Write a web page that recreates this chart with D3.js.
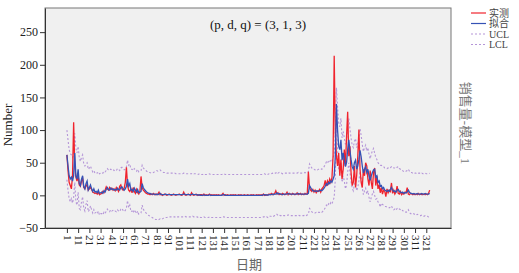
<!DOCTYPE html>
<html><head><meta charset="utf-8">
<script src="https://cdn.jsdelivr.net/npm/d3@7"></script>
<style>
html,body{margin:0;padding:0;background:#fff;}
svg{display:block;}
</style>
</head><body>
<svg id="chart" width="519" height="273"></svg>
<script>
// ---- data ----
const actual = [
62,38,20,15,10,30,112,45,28,22,
30,16,14,22,26,12,10,14,17,8,
10,12,9,5,4,3,4,2,5,1,
2,3,6,4,8,13,10,8,12,9,
11,8,10,7,12,9,6,14,16,10,
8,11,20,43,15,8,6,10,4,12,
6,3,9,4,2,6,29,12,8,6,
4,3,2,2,1,2,1,3,1,2,
1,2,5,1,2,0,1,2,1,0,
1,2,1,0,1,2,1,0,1,1,
2,1,0,1,5,1,0,1,2,1,
0,4,1,0,1,2,0,1,0,1,
1,0,2,0,1,0,1,2,0,1,
0,1,0,1,0,1,0,0,1,3,
0,1,0,1,0,0,1,0,1,0,
1,0,0,1,0,1,0,0,1,0,
0,1,0,0,1,0,1,0,0,1,
0,1,0,1,0,2,0,1,0,1,
2,1,3,1,2,3,7,2,4,1,
2,1,3,2,1,2,5,1,3,2,
1,3,2,1,2,4,1,2,3,1,
2,1,3,2,2,36,12,8,6,9,
5,8,4,7,6,9,5,10,12,15,
23,14,22,18,25,20,27,60,214,95,
60,45,65,30,55,25,40,70,45,90,
128,60,75,35,15,20,45,12,30,60,
101,40,20,12,40,30,50,45,25,15,
38,20,10,35,42,15,30,10,16,4,
12,2,8,6,-2,10,4,8,6,19,
3,8,2,5,14,3,2,6,1,3,
2,5,4,12,2,1,3,2,1,2,
1,2,1,3,1,2,1,1,2,1,
2,1,3,8];
const fitted = [
62,45,30,25,28,22,30,65,30,25,
40,18,15,25,30,14,10,18,22,8,
12,16,10,6,10,5,6,4,8,3,
4,5,3,7,5,9,12,9,8,11,
9,10,8,9,8,11,9,8,12,13,
10,8,10,14,25,14,18,8,9,6,
11,8,5,9,4,5,6,18,12,9,
7,5,4,3,3,2,2,2,2,1,
2,1,2,3,1,1,1,1,2,1,
1,1,1,1,1,1,1,1,1,1,
1,1,1,1,2,2,1,1,1,1,
1,1,2,1,1,1,1,0,1,0,
0,0,1,0,0,0,0,1,0,0,
0,0,0,0,0,0,0,0,0,1,
1,0,0,0,0,0,0,0,0,0,
0,0,0,0,0,0,0,0,0,0,
0,0,0,0,0,0,0,0,0,0,
0,0,0,0,0,1,1,0,1,0,
1,1,1,2,1,2,2,4,2,3,
2,2,1,2,2,2,2,3,2,2,
2,2,2,2,2,2,3,2,2,2,
2,2,2,2,2,3,15,12,9,7,
7,6,7,6,7,7,8,7,9,11,
14,18,16,20,18,22,20,25,30,60,
140,100,75,70,85,54,65,55,44,50,
70,85,69,55,44,40,50,54,40,45,
55,69,59,45,34,40,44,35,40,30,
23,30,35,39,40,28,30,20,22,14,
15,10,12,8,7,6,8,6,9,12,
8,6,7,5,8,9,6,5,4,5,
3,4,4,5,8,5,3,3,2,3,
2,2,3,2,2,2,3,2,2,3,
2,2,2,3];
const ucl = [
100,85,70,64,62,58,62,95,72,65,
75,58,52,58,62,48,45,48,50,40,
42,45,40,36,38,34,35,34,36,33,
34,35,34,37,36,38,41,39,38,40,
39,40,38,39,38,41,40,38,42,43,
41,39,40,44,54,46,48,40,40,38,
41,39,37,40,36,37,38,46,42,40,
39,37,36,35,35,34,34,35,36,37,
38,37,38,39,37,36,35,35,35,34,
34,34,34,34,34,34,34,33,33,33,
33,33,33,33,34,34,33,33,33,33,
33,33,34,33,33,33,33,32,33,32,
32,32,33,32,32,32,32,33,32,32,
32,32,32,32,32,32,32,32,32,33,
33,32,32,32,32,32,32,32,32,32,
32,32,32,32,32,32,32,32,32,32,
32,32,32,32,32,32,32,32,32,32,
32,32,32,32,32,33,33,32,33,32,
33,33,33,34,33,34,34,36,34,35,
34,34,33,34,34,34,34,35,34,34,
34,34,34,34,34,34,35,34,34,34,
34,34,35,34,35,36,48,45,42,40,
40,39,40,39,40,40,41,40,42,44,
47,51,49,53,51,55,53,58,63,95,
165,135,110,105,118,88,98,88,78,84,
104,118,102,88,77,73,83,87,73,78,
88,102,92,78,67,73,77,68,73,63,
56,63,68,72,65,58,55,50,48,46,
46,44,44,42,42,41,42,41,42,44,
44,42,42,41,43,44,41,40,38,38,
36,37,37,38,40,37,35,35,34,35,
34,34,35,34,34,33,34,33,33,34,
33,33,33,34];
const lcl = [
24,8,-5,-10,-5,-12,-3,20,-10,-15,
5,-20,-22,-10,-2,-20,-24,-14,-8,-25,
-22,-16,-22,-27,-22,-27,-26,-28,-24,-30,
-28,-28,-30,-26,-28,-24,-21,-24,-25,-22,
-24,-23,-25,-24,-25,-22,-24,-25,-21,-20,
-23,-25,-23,-19,-8,-19,-15,-25,-24,-27,
-22,-25,-28,-24,-29,-28,-27,-15,-21,-24,
-26,-28,-30,-31,-32,-33,-34,-35,-36,-37,
-37,-38,-37,-36,-37,-36,-35,-35,-34,-34,
-33,-33,-33,-33,-33,-33,-33,-34,-33,-33,
-33,-33,-33,-33,-32,-32,-33,-33,-33,-33,
-33,-33,-32,-33,-33,-33,-33,-34,-33,-34,
-34,-34,-33,-34,-34,-34,-34,-33,-34,-34,
-34,-34,-34,-34,-34,-34,-34,-34,-34,-33,
-33,-34,-34,-34,-34,-34,-34,-34,-34,-34,
-34,-34,-34,-34,-34,-34,-34,-34,-34,-34,
-34,-34,-34,-34,-34,-34,-34,-34,-34,-34,
-34,-34,-34,-34,-34,-33,-33,-34,-33,-34,
-32,-32,-32,-31,-32,-31,-31,-29,-31,-30,
-31,-31,-32,-31,-31,-31,-31,-30,-31,-31,
-31,-31,-31,-31,-31,-31,-30,-31,-31,-31,
-31,-31,-30,-31,-30,-29,-20,-22,-25,-27,
-27,-27,-26,-27,-26,-26,-25,-26,-24,-22,
-19,-15,-17,-13,-15,-11,-13,-8,-3,25,
110,70,40,35,50,20,30,22,10,16,
36,50,36,22,11,7,17,20,7,12,
22,36,26,12,1,7,11,2,7,-3,
-10,-3,2,6,0,-6,-5,-10,-12,-18,
-12,-14,-15,-17,-17,-18,-18,-19,-18,-16,
-20,-22,-21,-23,-20,-19,-21,-22,-24,-23,
-25,-25,-26,-25,-22,-26,-28,-28,-29,-28,
-30,-30,-29,-30,-31,-31,-30,-31,-32,-31,
-32,-32,-33,-32];
const xTickValues = d3.range(1, 322, 10);
const yTickValues = [-50, 0, 50, 100, 150, 200, 250];
const legendLabels = ["实测", "拟合", "UCL", "LCL"];
const titleText = "(p, d, q) = (3, 1, 3)";

// ---- layout ----
const svg = d3.select("#chart");
const L = 45, R = 451, T = 8, B = 228;
const x = d3.scaleLinear().domain([-18.5, 343]).range([L, R]);
const y = d3.scaleLinear().domain([-50, 287]).range([B, T]);
const serif = "'Liberation Serif','Times New Roman',serif";
const cjk = "'Liberation Serif','Noto Sans CJK SC',serif";

svg.append("rect").attr("x", L).attr("y", T).attr("width", R - L).attr("height", B - T)
  .attr("fill", "#f0f0f0").attr("stroke", "#777").attr("stroke-width", 1);

svg.append("clipPath").attr("id", "pc").append("rect")
  .attr("x", L).attr("y", T).attr("width", R - L).attr("height", B - T);
const g = svg.append("g").attr("clip-path", "url(#pc)");

const line = d3.line().x((d, i) => x(i + 1)).y(d => y(d));
const purple = "#b596d8";
g.append("path").datum(ucl).attr("d", line).attr("fill", "none")
  .attr("stroke", purple).attr("stroke-width", 1.1).attr("stroke-dasharray", "2,2");
g.append("path").datum(lcl).attr("d", line).attr("fill", "none")
  .attr("stroke", purple).attr("stroke-width", 1.1).attr("stroke-dasharray", "2,2");
g.append("path").datum(actual).attr("d", line).attr("fill", "none")
  .attr("stroke", "#f0232d").attr("stroke-width", 1.3);
g.append("path").datum(fitted).attr("d", line).attr("fill", "none")
  .attr("stroke", "#3552b5").attr("stroke-width", 1.3);

// axes
const yAxis = svg.append("g").attr("transform", `translate(${L},0)`)
  .call(d3.axisLeft(y).tickValues(yTickValues).tickSize(5).tickSizeOuter(0));
yAxis.select(".domain").attr("stroke", "#333");
yAxis.selectAll("line").attr("stroke", "#333");
yAxis.selectAll("text").attr("font-family", serif).attr("font-size", 12).attr("fill", "#222").attr("dx", "1");

const xAxis = svg.append("g").attr("transform", `translate(0,${B})`)
  .call(d3.axisBottom(x).tickValues(xTickValues).tickSize(5).tickSizeOuter(0));
xAxis.select(".domain").attr("stroke", "#333");
xAxis.selectAll("line").attr("stroke", "#333");
xAxis.selectAll("text").attr("font-family", serif).attr("font-size", 11).attr("fill", "#222")
  .attr("transform", "rotate(90)").attr("text-anchor", "start")
  .attr("x", 7).attr("y", 0).attr("dy", "0.33em");

// texts
svg.append("text").attr("x", 258).attr("y", 29).attr("text-anchor", "middle")
  .attr("font-family", serif).attr("font-size", 13).attr("fill", "#111").text(titleText);
svg.append("text").attr("transform", "translate(12,125) rotate(-90)").attr("text-anchor", "middle")
  .attr("font-family", serif).attr("font-size", 13).attr("fill", "#222").text("Number");
svg.append("text").attr("x", 249).attr("y", 269).attr("text-anchor", "middle")
  .attr("font-family", cjk).attr("font-size", 13).attr("fill", "#666").text("日期");
svg.append("text").attr("transform", "translate(461,123) rotate(90)").attr("text-anchor", "middle")
  .attr("font-family", cjk).attr("font-size", 13).attr("fill", "#777").text("销售量-模型_1");

// legend
const legStyles = [
  {c: "#f0232d", dash: null},
  {c: "#3552b5", dash: null},
  {c: purple, dash: "2,2"},
  {c: purple, dash: "2,2"}
];
const leg = svg.append("g");
legendLabels.forEach((lab, i) => {
  const yy = 13 + i * 10.5;
  leg.append("line").attr("x1", 471).attr("x2", 486).attr("y1", yy).attr("y2", yy)
    .attr("stroke", legStyles[i].c).attr("stroke-width", 1.2)
    .attr("stroke-dasharray", legStyles[i].dash);
  leg.append("text").attr("x", 489).attr("y", yy + 3.5)
    .attr("font-family", cjk).attr("font-size", 10).attr("fill", "#444").text(lab);
});
</script>
</body></html>
